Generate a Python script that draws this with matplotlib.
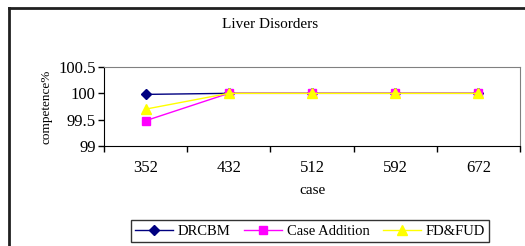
import matplotlib
matplotlib.use("Agg")
import matplotlib.pyplot as plt
from matplotlib.lines import Line2D

cases = ["352", "432", "512", "592", "672"]
drcbm = [99.98, 100.0, 100.0, 100.0, 100.0]
case_addition = [99.48, 100.0, 100.0, 100.0, 100.0]
fd_fud = [99.70, 100.0, 100.0, 100.0, 100.0]

plt.rcParams['font.family'] = ['Liberation Serif', 'DejaVu Serif']

fig = plt.figure(figsize=(5.25, 2.46), dpi=100)
ax = fig.add_axes([104 / 525, 1 - 146 / 246, 416 / 525, 79 / 246])

x = range(len(cases))
ax.plot(x, drcbm, color='#000080', marker='D', markersize=5, lw=1, label='DRCBM')
ax.plot(x, case_addition, color='#FF00FF', marker='s', markersize=6, lw=1, label='Case Addition')
ax.plot(x, fd_fud, color='#FFFF00', marker='^', markersize=7, lw=1, label='FD&FUD')

ax.set_xlim(-0.5, len(cases) - 0.5)
ax.set_ylim(99, 100.5)
ax.set_yticks([99, 99.5, 100, 100.5])
ax.set_yticklabels(['99', '99.5', '100', '100.5'], fontsize=12)
ax.set_xticks([i - 0.5 for i in range(len(cases) + 1)])
ax.set_xticklabels([])
ax.set_xticks(list(x), minor=True)
ax.set_xticklabels(cases, minor=True, fontsize=12)
ax.tick_params(axis='x', which='minor', length=0, pad=10)
ax.tick_params(axis='x', which='major', direction='out', length=4, width=1)
ax.tick_params(axis='y', direction='out', length=4, width=1, pad=2)

for s in ['top', 'right']:
    ax.spines[s].set_color('#808080')
for s in ['left', 'bottom']:
    ax.spines[s].set_color('black')

ax.set_xlabel('case', fontsize=11, labelpad=6)
ax.set_ylabel('competence%', fontsize=9.5, labelpad=4)
fig.text(270 / 525, 1 - 25 / 246, 'Liver Disorders', ha='center', va='center', fontsize=11)

leg = ax.legend(loc='center', bbox_to_anchor=(310 / 525, 1 - 231 / 246), bbox_transform=fig.transFigure,
                ncol=3, fontsize=10.5, frameon=True, fancybox=False, edgecolor='black',
                handlelength=2.6, handletextpad=0.35, columnspacing=0.9, borderpad=0.3,
                borderaxespad=0)
leg.get_frame().set_linewidth(1)

# outer chart border (left and top only visible)
fig.add_artist(Line2D([8.5 / 525, 8.5 / 525], [0, 1 - 7.5 / 246], color='#202020', lw=2, transform=fig.transFigure))
fig.add_artist(Line2D([8.5 / 525, 1], [1 - 7.5 / 246, 1 - 7.5 / 246], color='#202020', lw=2, transform=fig.transFigure))

fig.savefig('out.png', dpi=100)
